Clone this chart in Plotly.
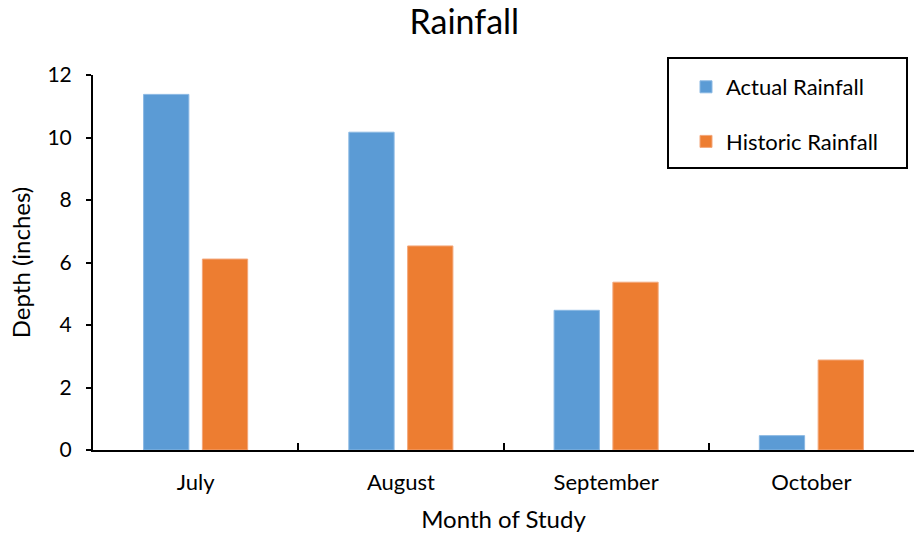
import plotly.graph_objects as go

# Monthly rainfall depths (inches)
months = ["July", "August", "September", "October"]
actual_rainfall = [11.38, 10.17, 4.47, 0.46]
historic_rainfall = [6.11, 6.53, 5.37, 2.88]

y_ticks = [0, 2, 4, 6, 8, 10, 12]

FONT = "Lato"
BLUE = "#5B9BD5"
ORANGE = "#ED7D31"

fig = go.Figure()
fig.add_trace(go.Bar(
    x=months, y=actual_rainfall, name="Actual Rainfall",
    marker=dict(color=BLUE, line=dict(color="#8AB8E3", width=1)),
    legendgroup="a",
))
fig.add_trace(go.Bar(
    x=months, y=historic_rainfall, name="Historic Rainfall",
    marker=dict(color=ORANGE, line=dict(color="#F3A77A", width=1)),
    legendgroup="h",
))

fig.update_layout(
    width=914, height=539,
    margin=dict(l=93, r=0, t=75, b=89),
    paper_bgcolor="white", plot_bgcolor="white",
    font=dict(family=FONT, color="black", size=21),
    title=dict(text="Rainfall", x=0.508, xanchor="center",
               y=1 - 22 / 539, yanchor="middle", yref="container",
               font=dict(size=34, family=FONT, color="black")),
    barmode="group", bargap=0.427, bargroupgap=0.23,
    showlegend=True,
    legend=dict(x=(686 - 93) / 821, xanchor="left",
                y=(450 - 66) / 375, yanchor="top",
                bgcolor="rgba(0,0,0,0)", borderwidth=0,
                font=dict(size=22, family=FONT),
                tracegroupgap=23, itemwidth=30),
    shapes=[dict(type="rect", xref="paper", yref="paper",
                 x0=(668 - 93) / 821, x1=(907 - 93) / 821,
                 y0=(450 - 168) / 375, y1=(450 - 58) / 375,
                 line=dict(color="black", width=2))],
)

fig.update_xaxes(
    showline=True, linecolor="black", linewidth=2,
    ticks="inside", tickson="boundaries", ticklen=7, tickwidth=2,
    tickcolor="black", showgrid=False, ticklabelstandoff=12,
    title=dict(text="Month of Study", font=dict(size=24, family=FONT), standoff=17),
    tickfont=dict(size=22, family=FONT),
)
fig.update_yaxes(
    range=[0, 12], tickvals=y_ticks,
    showline=True, linecolor="black", linewidth=2,
    ticks="outside", ticklen=5, tickwidth=2, tickcolor="black",
    showgrid=False, zeroline=False, ticklabelstandoff=10,
    title=dict(text="Depth (inches)", font=dict(size=24, family=FONT), standoff=10),
    tickfont=dict(size=21, family=FONT),
)

fig.write_html("out.html")
